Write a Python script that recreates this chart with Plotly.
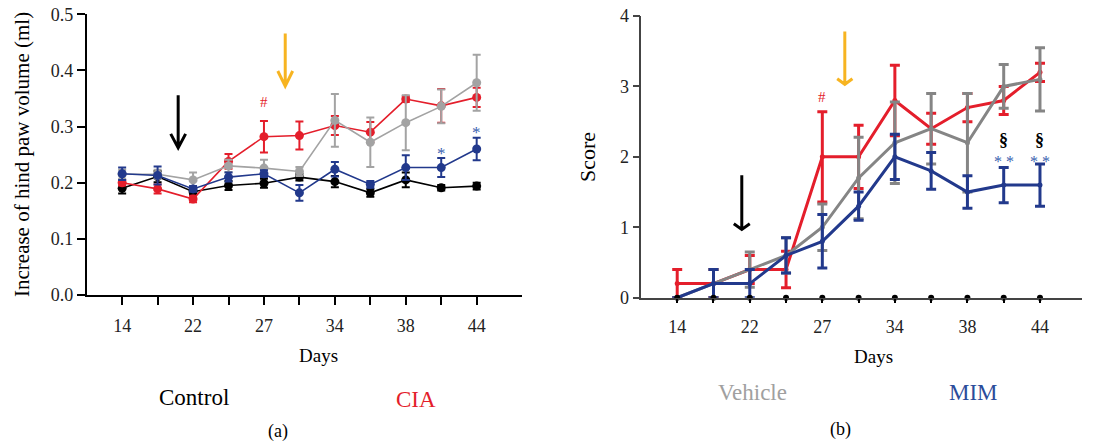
import plotly.graph_objects as go

W, H = 1094, 444
FONT = "Liberation Serif, DejaVu Serif, serif"

# ---------------- data ----------------
tick_labels = ["14", "", "22", "", "27", "", "34", "", "38", "", "44"]

# (a) increase of hind paw volume (ml)
paw_control = [0.190, 0.211, 0.184, 0.195, 0.199, 0.210, 0.202, 0.182, 0.205, 0.191, 0.194]
paw_control_err = [0.009, 0.010, 0.006, 0.008, 0.008, 0.006, 0.010, 0.007, 0.013, 0.005, 0.006]
paw_cia = [0.200, 0.189, 0.171, 0.238, 0.282, 0.284, 0.302, 0.290, 0.349, 0.337, 0.352]
paw_cia_err = [0.005, 0.008, 0.006, 0.013, 0.028, 0.025, 0.017, 0.018, 0.005, 0.030, 0.017]
paw_vehicle = [0.215, 0.215, 0.205, 0.230, 0.226, 0.220, 0.311, 0.272, 0.307, 0.336, 0.378]
paw_vehicle_err = [0.008, 0.008, 0.013, 0.011, 0.015, 0.008, 0.047, 0.044, 0.049, 0.030, 0.050]
paw_mim = [0.216, 0.213, 0.189, 0.210, 0.216, 0.182, 0.224, 0.197, 0.227, 0.227, 0.260]
paw_mim_err = [0.011, 0.016, 0.005, 0.008, 0.006, 0.014, 0.013, 0.006, 0.022, 0.017, 0.020]

# (b) clinical score
score_control = [0, 0, 0, 0, 0, 0, 0, 0, 0, 0, 0]
score_control_err = [0.13, 0.13, 0.13, 0, 0, 0, 0, 0, 0, 0, 0]
score_cia = [0.2, 0.2, 0.4, 0.4, 2.0, 2.0, 2.8, 2.4, 2.7, 2.8, 3.2]
score_cia_err = [0.2, 0.2, 0.2, 0.26, 0.64, 0.45, 0.5, 0.22, 0.2, 0.2, 0.13]
score_vehicle = [0.0, 0.2, 0.4, 0.6, 1.0, 1.7, 2.2, 2.4, 2.2, 3.0, 3.1]
score_vehicle_err = [0.0, 0.2, 0.25, 0.25, 0.33, 0.58, 0.58, 0.5, 0.7, 0.31, 0.45]
score_mim = [0.0, 0.2, 0.2, 0.6, 0.8, 1.3, 2.0, 1.8, 1.5, 1.6, 1.6]
score_mim_err = [0.0, 0.2, 0.2, 0.25, 0.38, 0.2, 0.32, 0.26, 0.23, 0.25, 0.3]

RED = "#E41E2B"
BLUE = "#22398C"
GRAY_A = "#A3A3A3"
GRAY_B = "#858585"
ORANGE = "#F7B421"

x_idx = list(range(len(tick_labels)))

fig = go.Figure()


def add_series(y, err, color, xa, ya, msize, lw, ethick, ewidth):
    eb = dict(type="data", array=err, visible=True, color=color,
              thickness=ethick, width=ewidth)
    fig.add_trace(go.Scatter(
        x=x_idx, y=y, mode="lines+markers", xaxis=xa, yaxis=ya,
        line=dict(color=color, width=lw),
        marker=dict(color=color, size=msize, symbol="circle"),
        error_y=eb, showlegend=False, cliponaxis=False))


# panel (a)
add_series(paw_control, paw_control_err, "#000000", "x", "y", 9, 1.6, 2, 4)
add_series(paw_cia, paw_cia_err, RED, "x", "y", 9, 1.6, 2, 4)
add_series(paw_vehicle, paw_vehicle_err, GRAY_A, "x", "y", 9, 1.6, 2, 4)
add_series(paw_mim, paw_mim_err, BLUE, "x", "y", 9, 1.6, 2, 4)

# panel (b)
add_series(score_cia, score_cia_err, RED, "x2", "y2", 5, 3, 3, 5)
add_series(score_vehicle, score_vehicle_err, GRAY_B, "x2", "y2", 5, 3, 3, 5)
add_series(score_mim, score_mim_err, BLUE, "x2", "y2", 5, 3, 3, 5)
fig.add_trace(go.Scatter(
    x=x_idx, y=score_control, mode="markers", xaxis="x2", yaxis="y2",
    marker=dict(color="#000000", size=6),
    error_y=dict(type="data", array=[0] * len(score_control_err),
                 arrayminus=score_control_err, symmetric=False, visible=True,
                 color="#000000", thickness=3, width=0),
    showlegend=False, cliponaxis=False))

axis_common = dict(showgrid=False, zeroline=False, showline=True, ticks="outside",
                   automargin=False,
                   tickfont=dict(family=FONT, size=18, color="#222"))

fig.update_layout(
    autosize=True, margin=dict(l=0, r=0, t=0, b=0, pad=0),
    paper_bgcolor="white", plot_bgcolor="white",
    font=dict(family=FONT, color="#000"),
    xaxis=dict(domain=[86.7 / W, 521.7 / W], range=[-1.0, 11.27],
               tickvals=x_idx, ticktext=tick_labels, ticklen=8, tickwidth=1.5,
               linecolor="#000", linewidth=1.5, tickcolor="#000",
               ticklabelstandoff=6, anchor="y", **axis_common),
    yaxis=dict(domain=[1 - 295 / H, 1 - 14.3 / H], range=[0, 0.5],
               tickvals=[0, 0.1, 0.2, 0.3, 0.4, 0.5],
               ticktext=["0.0", "0.1", "0.2", "0.3", "0.4", "0.5"],
               ticklen=8, tickwidth=1.5, linecolor="#000", linewidth=1.5,
               tickcolor="#000", anchor="x", **axis_common),
    xaxis2=dict(domain=[641.3 / W, 1081.7 / W], range=[-0.99, 11.15],
                tickvals=x_idx, ticktext=tick_labels, ticklen=4, tickwidth=1.5,
                linecolor="#444", linewidth=1.5, tickcolor="#000",
                ticklabelstandoff=8, anchor="y2", **axis_common),
    yaxis2=dict(domain=[1 - 297.7 / H, 1 - 16 / H], range=[0, 4],
                tickvals=[0, 1, 2, 3, 4], ticklen=7, tickwidth=1.5,
                linecolor="#444", linewidth=1.5, tickcolor="#444",
                anchor="x2", **axis_common),
)


def paper_text(txt, px, py, size, color="#000", angle=0):
    fig.add_annotation(text=txt, x=px / W, y=1 - py / H, xref="paper", yref="paper",
                       showarrow=False, textangle=angle,
                       font=dict(family=FONT, size=size, color=color),
                       xanchor="center", yanchor="middle")


paper_text("Increase of hind paw volume (ml)", 22, 155, 21, angle=-90)
paper_text("Score", 587, 157, 22, angle=-90)
paper_text("Days", 318, 355, 19)
paper_text("Days", 873, 356, 19)
paper_text("Control", 194, 397, 23)
paper_text("CIA", 416, 399, 23, RED)
paper_text("Vehicle", 752, 392, 23, "#A0A0A0")
paper_text("MIM", 973, 392, 23, "#2B4C9B")
paper_text("(a)", 278, 431, 18)
paper_text("(b)", 840, 429, 18)


def data_text(txt, x, y, xa, ya, size, color):
    fig.add_annotation(text=txt, x=x, y=y, xref=xa, yref=ya, showarrow=False,
                       font=dict(family=FONT, size=size, color=color))


data_text("#", 4, 0.343, "x", "y", 15, RED)
data_text("*", 9, 0.252, "x", "y", 17, "#3A5FB0")
data_text("*", 10, 0.290, "x", "y", 17, "#3A5FB0")
data_text("#", 4, 2.85, "x2", "y2", 15, RED)
data_text("<b>§</b>", 9, 2.24, "x2", "y2", 18, "#000")
data_text("<b>§</b>", 10, 2.24, "x2", "y2", 18, "#000")
data_text("* *", 9, 1.93, "x2", "y2", 16, "#3A5FB0")
data_text("* *", 10, 1.93, "x2", "y2", 16, "#3A5FB0")

# arrows (annotation marks): x, y_top, y_tip, half-width, head height
arrows = [
    ("x", "y", 1.58, 0.356, 0.262, 0.21, 0.025, "#000"),
    ("x", "y", 4.60, 0.466, 0.372, 0.21, 0.027, ORANGE),
    ("x2", "y2", 1.78, 1.74, 0.97, 0.22, 0.08, "#000"),
    ("x2", "y2", 4.62, 3.78, 3.03, 0.21, 0.08, ORANGE),
]
for xa, ya, ax, y0, y1, hw, hh, col in arrows:
    path = (f"M {ax},{y0} L {ax},{y1} M {ax - hw},{y1 + hh} L {ax},{y1} "
            f"L {ax + hw},{y1 + hh}")
    fig.add_shape(type="path", path=path, xref=xa, yref=ya,
                  line=dict(color=col, width=3))

post = ("document.documentElement.style.margin='0';"
        "document.documentElement.style.overflow='hidden';"
        "document.body.style.margin='0';"
        "document.body.style.overflow='hidden';"
        "var gd=document.getElementById('{plot_id}');"
        "gd.style.width='100vw';gd.style.height='100vh';"
        "Plotly.Plots.resize(gd);")

fig.write_html("out.html", config={"displayModeBar": False, "responsive": True},
               default_width="100vw", default_height="100vh",
               post_script=post)
